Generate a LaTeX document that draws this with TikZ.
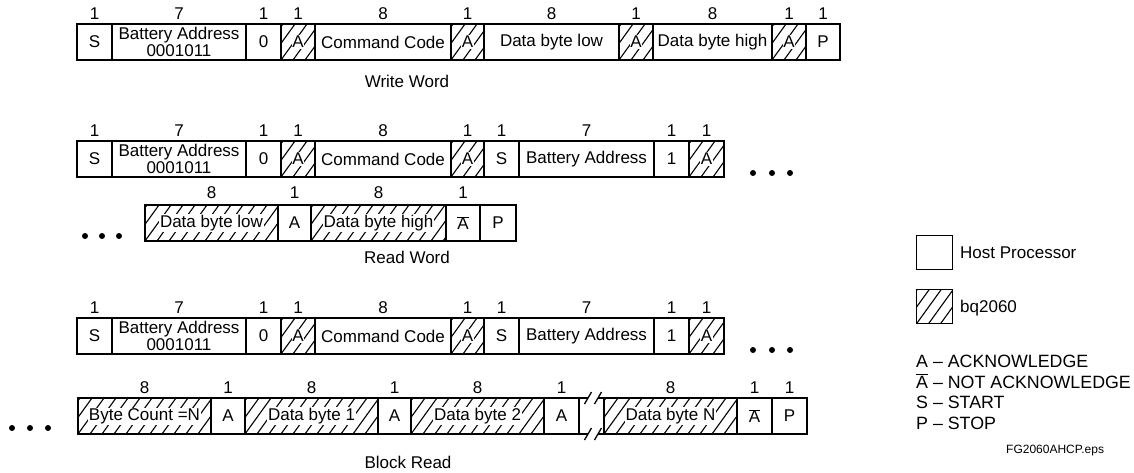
\documentclass[tikz,border=0pt]{standalone}
\usepackage{fontspec}
\setmainfont{Liberation Sans}
\newcommand\hl[1]{{\setlength\fboxsep{0.8pt}\colorbox{white}{#1}}}
\newcommand\nack{$\overline{\hbox{A}}$}
\def\ny{15}
\newcommand\fld[7]{%
  \pgfmathsetmacro\fw{#3-#2}%
  \node[field,#7,minimum width=\fw pt,anchor=north west] (#1) at (#2,#4) {#6};%
  \if\relax\detokenize{#5}\relax\else
  \node[num] (#1n) at ({(#2+#3)/2},\ny) {#5};\fi}
\begin{document}
\begin{tikzpicture}[x=1pt,y=-1pt,
  every node/.style={font=\fontsize{17}{14.5}\selectfont},
  field/.style={draw,line width=1.6pt,minimum height=36pt,inner sep=0pt,outer sep=0pt,align=center},
  plain/.style={},
  hatched/.style={path picture={%
    \foreach \k in {-3,...,13}{\draw[line width=1.1pt]
      ([xshift={\k*12pt}]path picture bounding box.south west) -- ++(26pt,36pt);}}},
  num/.style={inner sep=0pt},
  caption/.style={inner sep=0pt},
  legend/.style={inner sep=0pt,anchor=west,font=\fontsize{17.8}{18}\selectfont},
  dot/.style={fill=black}]
\useasboundingbox (0,0) rectangle (1134,472);

% ---------------- Write Word
\def\ny{14}
\fld{wS}{77}{112}{24}{1}{S}{plain}
\fld{wBA}{112}{246}{24}{7}{Battery Address\\0001011}{plain}
\fld{wZ}{246}{281}{24}{1}{0}{plain}
\fld{wA1}{281}{315}{24}{1}{\hl{A}}{hatched}
\fld{wCC}{315}{451}{24}{8}{Command Code}{plain}
\fld{wA2}{451}{484}{24}{1}{\hl{A}}{hatched}
\fld{wDL}{484}{619}{24}{8}{Data byte low}{plain}
\fld{wA3}{619}{653}{24}{1}{\hl{A}}{hatched}
\fld{wDH}{653}{772}{24}{8}{Data byte high}{plain}
\fld{wA4}{772}{806}{24}{1}{\hl{A}}{hatched}
\fld{wP}{806}{840}{24}{1}{P}{plain}
\node[caption] (capW) at (407,81) {Write Word};

% ---------------- Read Word
\def\ny{131}
\fld{rS}{77}{112}{141}{1}{S}{plain}
\fld{rBA}{112}{246}{141}{7}{Battery Address\\0001011}{plain}
\fld{rZ}{246}{281}{141}{1}{0}{plain}
\fld{rA1}{281}{315}{141}{1}{\hl{A}}{hatched}
\fld{rCC}{315}{451}{141}{8}{Command Code}{plain}
\fld{rA2}{451}{484}{141}{1}{\hl{A}}{hatched}
\fld{rS2}{484}{519}{141}{1}{S}{plain}
\fld{rBA2}{519}{654}{141}{7}{Battery Address}{plain}
\fld{rOne}{654}{689}{141}{1}{1}{plain}
\fld{rA3}{689}{724}{141}{1}{\hl{A}}{hatched}
\foreach \x in {753,772,790} \fill[dot] (\x,173) circle (3);

\def\ny{193}
\foreach \x in {85,102,119} \fill[dot] (\x,236) circle (3);
\fld{rDL}{145}{278}{205}{8}{\hl{Data byte low}}{hatched}
\fld{rA4}{278}{311}{205}{1}{A}{plain}
\fld{rDH}{311}{446}{205}{8}{\hl{Data byte high}}{hatched}
\fld{rN}{446}{480}{205}{1}{\nack}{plain}
\fld{rP}{480}{516}{205}{}{P}{plain}
\node[caption] (capR) at (407,257) {Read Word};

% ---------------- Block Read
\def\ny{308}
\fld{bS}{77}{112}{318}{1}{S}{plain}
\fld{bBA}{112}{246}{318}{7}{Battery Address\\0001011}{plain}
\fld{bZ}{246}{281}{318}{1}{0}{plain}
\fld{bA1}{281}{315}{318}{1}{\hl{A}}{hatched}
\fld{bCC}{315}{451}{318}{8}{Command Code}{plain}
\fld{bA2}{451}{484}{318}{1}{\hl{A}}{hatched}
\fld{bS2}{484}{519}{318}{1}{S}{plain}
\fld{bBA2}{519}{654}{318}{7}{Battery Address}{plain}
\fld{bOne}{654}{689}{318}{1}{1}{plain}
\fld{bA3}{689}{724}{318}{1}{\hl{A}}{hatched}
\foreach \x in {753,772,790} \fill[dot] (\x,350) circle (3);

\def\ny{388}
\foreach \x in {12,30,48} \fill[dot] (\x,428) circle (3);
\fld{bBC}{78}{211}{398}{8}{\hl{Byte Count =N}}{hatched}
\fld{bA4}{211}{245}{398}{1}{A}{plain}
\fld{bD1}{245}{378}{398}{8}{\hl{Data byte 1}}{hatched}
\fld{bA5}{378}{411}{398}{1}{A}{plain}
\fld{bD2}{411}{544}{398}{8}{\hl{Data byte 2}}{hatched}
\fld{bA6}{544}{579}{398}{1}{A}{plain}
\fld{bDN}{604}{737}{398}{8}{\hl{Data byte N}}{hatched}
\fld{bN}{737}{772}{398}{1}{\nack}{plain}
\fld{bP}{772}{807}{398}{1}{P}{plain}
% break in the frame
\coordinate (brT1) at (588,398); \coordinate (brT2) at (598,398);
\coordinate (brB1) at (588,434); \coordinate (brB2) at (598,434);
\draw[line width=1.6pt] (bA6.north east) -- (brT1) (brT2) -- (bDN.north west);
\draw[line width=1.6pt] (bA6.south east) -- (brB1) (brB2) -- (bDN.south west);
\foreach \c in {brT1,brT2,brB1,brB2}
  \draw[line width=1.3pt] ([xshift=-3.5pt,yshift=-6pt]\c) -- ([xshift=3.5pt,yshift=6pt]\c);
\node[caption] (capB) at (408,462) {Block Read};

% ---------------- Legend
\node[draw,line width=1.2pt,minimum width=36pt,minimum height=34pt,inner sep=0pt,anchor=north west] (lgH) at (916,235) {};
\node[legend,font=\fontsize{17}{18}\selectfont] (lgHt) at (960,253) {Host Processor};
\node[draw,line width=1.2pt,minimum width=36pt,minimum height=34pt,inner sep=0pt,anchor=north west,hatched] (lgB) at (916,289) {};
\node[legend,font=\fontsize{17}{18}\selectfont] (lgBt) at (960,308) {bq2060};
\node[legend] (lg1) at (916,361) {A -- ACKNOWLEDGE};
\node[legend] (lg2) at (916,381) {\nack\ -- NOT ACKNOWLEDGE};
\node[legend] (lg3) at (916,402) {S -- START};
\node[legend] (lg4) at (916,423) {P -- STOP};
\node[legend,font=\fontsize{12}{13}\selectfont] (fg) at (1006,451) {FG2060AHCP.eps};
\end{tikzpicture}
\end{document}
